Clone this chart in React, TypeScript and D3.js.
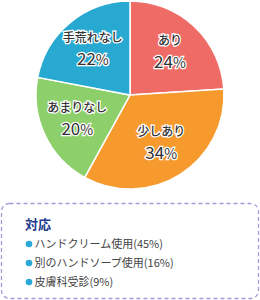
import * as d3 from "d3";
import { useEffect, useRef } from "react";

const labels = ["あり", "少しあり", "あまりなし", "手荒れなし"];
const values = [24, 34, 20, 22];
const colors = ["#ef6b66", "#f69a2d", "#8dcf6a", "#27a9d2"];

const legendTitle = "対応";
const legendItems = ["ハンドクリーム使用(45%)", "別のハンドソープ使用(16%)", "皮膚科受診(9%)"];

const font = "'Noto Sans CJK JP', 'Noto Sans', sans-serif";

export default function App() {
  const svgRef = useRef<SVGSVGElement | null>(null);

  useEffect(() => {
    if (!svgRef.current) return;
    const svg = d3.select(svgRef.current);
    svg.selectAll("*").remove();

    const width = 260;
    const height = 300;
    const cx = 130;
    const cy = 95;
    const radius = 94;

    svg.attr("width", width).attr("height", height).attr("viewBox", `0 0 ${width} ${height}`);

    const pie = d3.pie<number>().sort(null).value(d => d);
    const arcs = pie(values);
    const arc = d3.arc<d3.PieArcDatum<number>>().innerRadius(0).outerRadius(radius);
    const labelArc = d3.arc<d3.PieArcDatum<number>>().innerRadius(radius * 0.62).outerRadius(radius * 0.62);

    const g = svg.append("g").attr("transform", `translate(${cx},${cy})`);

    g.selectAll("path")
      .data(arcs)
      .join("path")
      .attr("d", arc)
      .attr("fill", (d, i) => colors[i])
      .attr("stroke", "#fff")
      .attr("stroke-width", 1.5);

    const lbl = g.selectAll("g.lbl")
      .data(arcs)
      .join("g")
      .attr("class", "lbl")
      .attr("transform", d => {
        const [x, y] = labelArc.centroid(d);
        return `translate(${x},${y})`;
      });

    lbl.append("text")
      .attr("text-anchor", "middle")
      .attr("y", -8)
      .attr("font-family", font)
      .attr("font-size", 12)
      .attr("font-weight", 500)
      .attr("fill", "#333")
      .attr("stroke", "#fff")
      .attr("stroke-width", 2.5)
      .attr("paint-order", "stroke")
      .text((d, i) => labels[i]);

    const pct = lbl.append("text")
      .attr("text-anchor", "middle")
      .attr("y", 15)
      .attr("font-family", font)
      .attr("fill", "#333")
      .attr("stroke", "#fff")
      .attr("stroke-width", 2.5)
      .attr("paint-order", "stroke");
    pct.append("tspan").attr("font-size", 17).text(d => String(d.data));
    pct.append("tspan").attr("font-size", 14).text("%");

    // legend box
    svg.append("rect")
      .attr("x", 1.5)
      .attr("y", 203.5)
      .attr("width", 257)
      .attr("height", 95)
      .attr("rx", 8)
      .attr("fill", "#fff")
      .attr("stroke", "#a898d8")
      .attr("stroke-width", 1.3)
      .attr("stroke-dasharray", "4,3");

    svg.append("text")
      .attr("x", 25)
      .attr("y", 229)
      .attr("font-family", font)
      .attr("font-size", 13)
      .attr("font-weight", 700)
      .attr("fill", "#1d3a8c")
      .text(legendTitle);

    const y = d3.scalePoint<string>().domain(legendItems).range([244, 282]);

    const items = svg.selectAll("g.item")
      .data(legendItems)
      .join("g")
      .attr("class", "item")
      .attr("transform", d => `translate(0,${y(d)})`);

    items.append("circle")
      .attr("cx", 29)
      .attr("cy", 0)
      .attr("r", 3.3)
      .attr("fill", "#2aa8d8");

    items.append("text")
      .attr("x", 34.5)
      .attr("y", 4)
      .attr("font-family", font)
      .attr("font-size", 11)
      .attr("fill", "#444")
      .text(d => d);
  }, []);

  return (
    <div style={{ position: "absolute", left: 0, top: 0 }}>
      <svg ref={svgRef} style={{ display: "block" }} />
    </div>
  );
}
